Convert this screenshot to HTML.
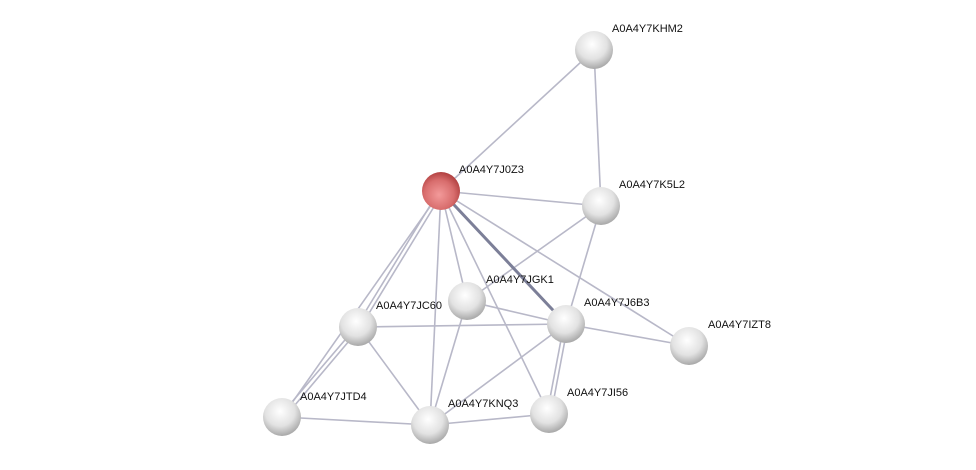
<!DOCTYPE html>
<html><head><style>body{margin:0;background:#fff}</style></head><body>
<svg width="976" height="470" xmlns="http://www.w3.org/2000/svg" style="display:block">
<defs>
<radialGradient id="g" cx="0.45" cy="0.35" r="0.65"><stop offset="0" stop-color="#ffffff"/><stop offset="0.6" stop-color="#e2e2e2"/><stop offset="1" stop-color="#a8a8a8"/></radialGradient>
<radialGradient id="r" cx="0.45" cy="0.6" r="0.65"><stop offset="0" stop-color="#f39a9a"/><stop offset="0.6" stop-color="#d86d6d"/><stop offset="1" stop-color="#a83636"/></radialGradient>
</defs>
<g stroke="#b8b8c8" stroke-width="1.6" fill="none">
<line x1="594" y1="50" x2="441" y2="191"/>
<line x1="594" y1="50" x2="601" y2="206"/>
<line x1="441" y1="191" x2="601" y2="206"/>
<line x1="439" y1="191" x2="356" y2="327"/>
<line x1="443" y1="192" x2="360" y2="328"/>
<line x1="441" y1="191" x2="282" y2="417"/>
<line x1="441" y1="191" x2="430" y2="425"/>
<line x1="441" y1="191" x2="467" y2="301"/>
<line x1="441" y1="191" x2="549" y2="414"/>
<line x1="441" y1="191" x2="689" y2="346"/>
<line x1="601" y1="206" x2="467" y2="301"/>
<line x1="601" y1="206" x2="566" y2="324"/>
<line x1="467" y1="301" x2="566" y2="324"/>
<line x1="467" y1="301" x2="430" y2="425"/>
<line x1="358" y1="327" x2="566" y2="324"/>
<line x1="358" y1="327" x2="430" y2="425"/>
<line x1="356" y1="327" x2="280" y2="416"/>
<line x1="360" y1="328" x2="284" y2="418"/>
<line x1="566" y1="324" x2="689" y2="346"/>
<line x1="566" y1="324" x2="430" y2="425"/>
<line x1="564" y1="324" x2="547" y2="414"/>
<line x1="568" y1="324" x2="551" y2="414"/>
<line x1="282" y1="417" x2="430" y2="425"/>
<line x1="430" y1="425" x2="549" y2="414"/>
</g>
<line x1="441" y1="191" x2="566" y2="324" stroke="#7c7f98" stroke-width="3"/>
<g>
<circle cx="594" cy="50" r="19" fill="url(#g)"/>
<circle cx="601" cy="206" r="19" fill="url(#g)"/>
<circle cx="467" cy="301" r="19" fill="url(#g)"/>
<circle cx="358" cy="327" r="19" fill="url(#g)"/>
<circle cx="566" cy="324" r="19" fill="url(#g)"/>
<circle cx="689" cy="346" r="19" fill="url(#g)"/>
<circle cx="282" cy="417" r="19" fill="url(#g)"/>
<circle cx="430" cy="425" r="19" fill="url(#g)"/>
<circle cx="549" cy="414" r="19" fill="url(#g)"/>
<circle cx="441" cy="191" r="19" fill="url(#r)"/>
</g>
<g font-family="Liberation Sans, sans-serif" font-size="11" fill="#111">
<text x="612" y="32">A0A4Y7KHM2</text>
<text x="459" y="173">A0A4Y7J0Z3</text>
<text x="619" y="188">A0A4Y7K5L2</text>
<text x="486" y="283">A0A4Y7JGK1</text>
<text x="376" y="309">A0A4Y7JC60</text>
<text x="584" y="306">A0A4Y7J6B3</text>
<text x="708" y="328">A0A4Y7IZT8</text>
<text x="300" y="400">A0A4Y7JTD4</text>
<text x="448" y="407">A0A4Y7KNQ3</text>
<text x="567" y="396">A0A4Y7JI56</text>
</g>
</svg>
</body></html>
